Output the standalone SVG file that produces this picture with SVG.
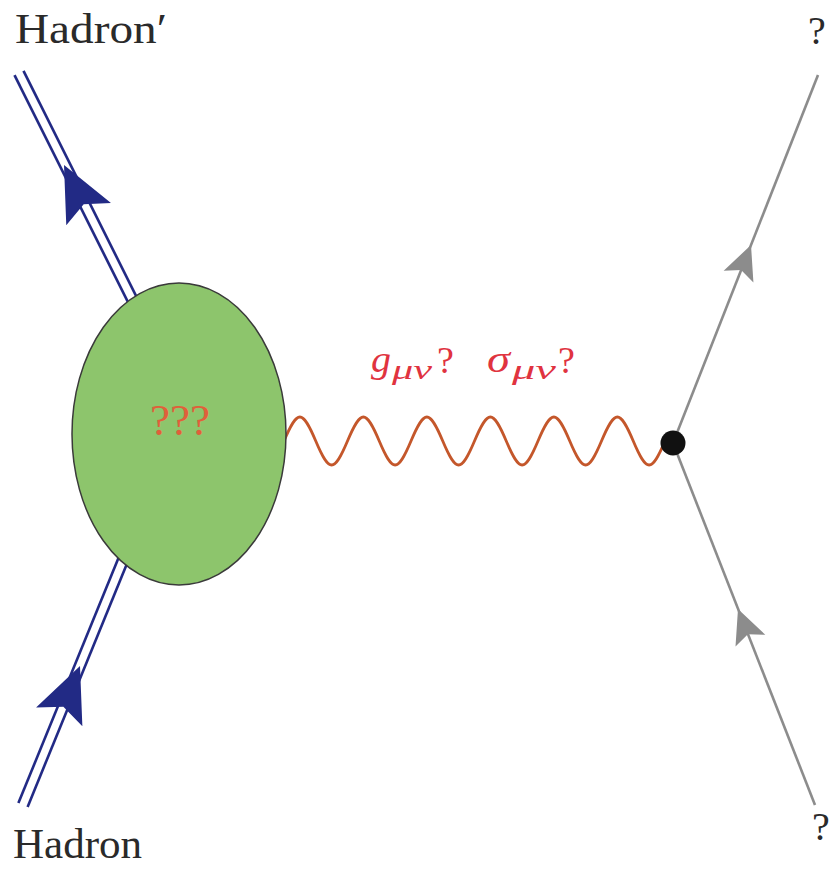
<svg xmlns="http://www.w3.org/2000/svg" xmlns:xlink="http://www.w3.org/1999/xlink" width="832" height="869" viewBox="0 0 832 869">
<style>
.lbl{font-family:"Liberation Serif","Times New Roman",serif;fill:#2a2a2a}
.math{font-family:"Liberation Serif","Times New Roman",serif;fill:#e0333f}
.it{font-style:italic}
.hadron{stroke:#222a85;stroke-width:2.6;fill:none}
.gray{stroke:#8c8c8c;stroke-width:2.6;fill:none}
.photon{stroke:#c4572b;stroke-width:2.8;fill:none}
</style>
<defs>
<path id="stealthB" d="M0,0 L-55,-25 L-44,0 L-55,25 Z" fill="#222a85"/>
<path id="stealthG" d="M0,0 L-34,-16 L-27,0 L-34,16 Z" fill="#8c8c8c"/>
</defs>
<rect width="832" height="869" fill="#ffffff"/>
<g id="connectors">
<g id="hadron-out">
<line class="hadron" x1="14.5" y1="75.2" x2="135.5" y2="317.2"/>
<line class="hadron" x1="23.5" y1="70.8" x2="144.5" y2="312.8"/>
<use xlink:href="#stealthB" transform="translate(64,165) rotate(-116.6)"/>
</g>
<g id="hadron-in">
<line class="hadron" x1="18.4" y1="803.1" x2="125.4" y2="541.1"/>
<line class="hadron" x1="27.6" y1="806.9" x2="134.6" y2="544.9"/>
<use xlink:href="#stealthB" transform="translate(80,666) rotate(-67.8)"/>
</g>
<g id="lepton-out">
<line class="gray" x1="673" y1="443" x2="818" y2="75"/>
<use xlink:href="#stealthG" transform="translate(751,245) rotate(-68.5)"/>
</g>
<g id="lepton-in">
<line class="gray" x1="815" y1="805" x2="673" y2="443"/>
<use xlink:href="#stealthG" transform="translate(738,609) rotate(-111.4)"/>
</g>
<g id="photon">
<path class="photon" d="M284,441 c13.47,-32 18.28,-32 31.75,0 c13.47,32 18.28,32 31.75,0 c13.47,-32 18.28,-32 31.75,0 c13.47,32 18.28,32 31.75,0 c13.47,-32 18.28,-32 31.75,0 c13.47,32 18.28,32 31.75,0 c13.47,-32 18.28,-32 31.75,0 c13.47,32 18.28,32 31.75,0 c13.47,-32 18.28,-32 31.75,0 c13.47,32 18.28,32 31.75,0 c13.47,-32 18.28,-32 31.75,0 c13.47,32 18.28,32 31.75,0 L673,443"/>
</g>
</g>
<g id="blob">
<ellipse cx="179" cy="434" rx="107" ry="151" fill="#8dc56c" stroke="#3a3a3a" stroke-width="1.5"/>
<text class="lbl" x="150" y="435" font-size="45" style="fill:#e0603a" textLength="60" lengthAdjust="spacingAndGlyphs">???</text>
</g>
<g id="vertex">
<circle cx="673" cy="443" r="12.5" fill="#111"/>
</g>
<g id="label-hadron-out">
<text class="lbl" x="15" y="43" font-size="42" textLength="152" lengthAdjust="spacingAndGlyphs">Hadron′</text>
</g>
<g id="label-hadron-in">
<text class="lbl" x="13" y="858" font-size="42" textLength="129" lengthAdjust="spacingAndGlyphs">Hadron</text>
</g>
<g id="label-q-top">
<text class="lbl" x="808" y="44" font-size="40">?</text>
</g>
<g id="label-q-bottom">
<text class="lbl" x="812" y="840" font-size="40">?</text>
</g>
<g id="label-photon">
<text class="math it" x="371" y="372" font-size="38" textLength="20" lengthAdjust="spacingAndGlyphs">g</text>
<text class="math it" x="392" y="379" font-size="28" textLength="40" lengthAdjust="spacingAndGlyphs">μν</text>
<text class="math" x="437" y="373" font-size="38">?</text>
<text class="math it" x="487" y="372" font-size="38" textLength="23" lengthAdjust="spacingAndGlyphs">σ</text>
<text class="math it" x="512" y="379" font-size="28" textLength="44" lengthAdjust="spacingAndGlyphs">μν</text>
<text class="math" x="558" y="373" font-size="38">?</text>
</g>
</svg>
